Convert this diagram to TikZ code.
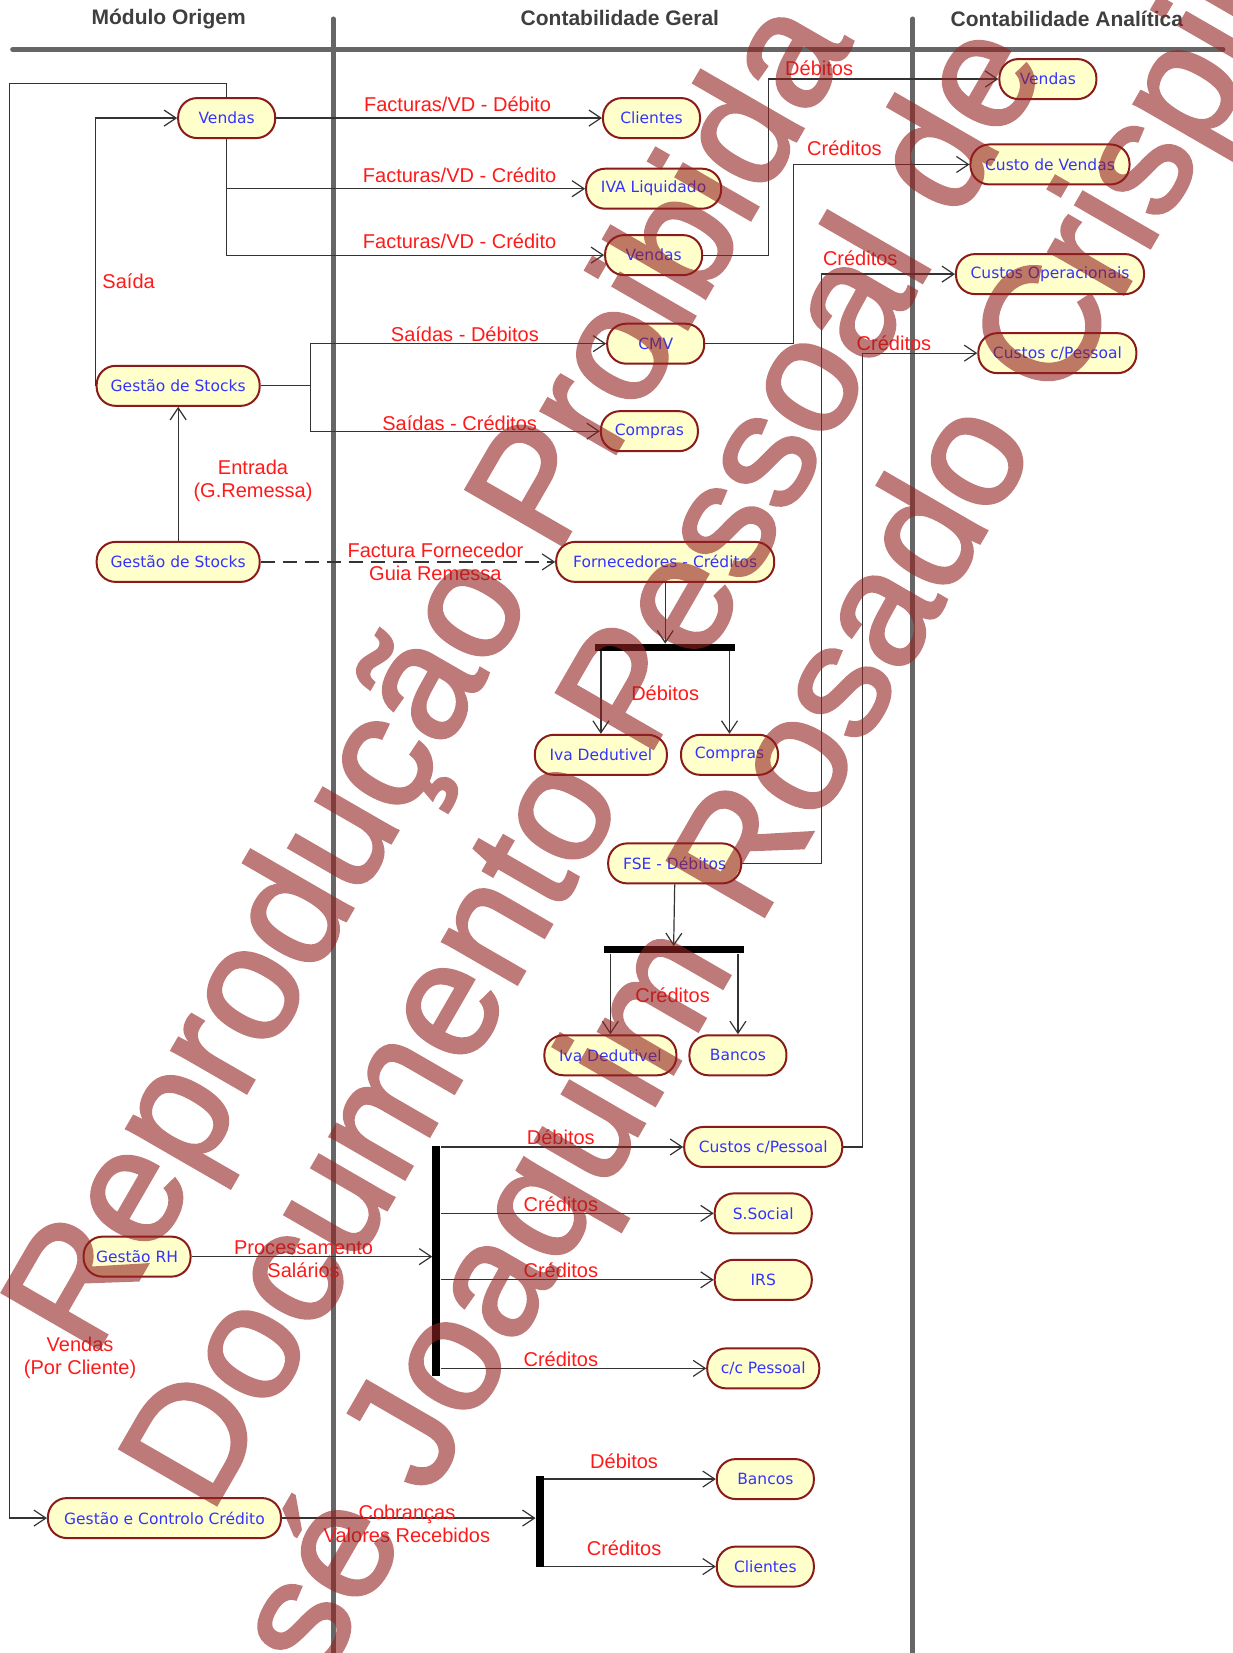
\documentclass[tikz,border=0pt]{standalone}
\usepackage{fontspec}
\setmainfont{Liberation Sans}
\newfontfamily\verd{DejaVu Sans}
\newfontfamily\wmfont[FakeBold=2]{Liberation Sans}
\usetikzlibrary{positioning, arrows.meta, calc}
\definecolor{accF}{HTML}{FFFFCC}
\definecolor{accB}{HTML}{8B1A1A}
\definecolor{accT}{HTML}{3333FF}
\definecolor{lblRed}{HTML}{FF1A1A}
\definecolor{laneG}{HTML}{666666}
\definecolor{hdrG}{HTML}{3F3F3F}
\definecolor{wire}{HTML}{333333}
\definecolor{wmark}{RGB}{148,33,33}

\begin{document}
\begin{tikzpicture}[x=1.054pt, y=-1.054pt,
acc/.style={draw=accB, fill=accF, line width=2pt, rounded corners=19pt, minimum height=40pt, inner sep=0pt, font=\verd\fontsize{15.5}{18}\selectfont, text=accT},
lbl/.style={font=\fontsize{20}{23}\selectfont, text=lblRed, align=center, inner sep=0pt},
hdr/.style={font=\bfseries\fontsize{21}{24}\selectfont, text=hdrG, inner sep=0pt},
hbar/.style={fill=black, inner sep=0pt, minimum height=7pt},
vbar/.style={fill=black, inner sep=0pt, minimum width=8pt},
con/.style={draw=wire, line width=1.2pt, -{Straight Barb[length=12pt, width=16pt]}},
lane/.style={draw=laneG, line width=5pt, line cap=round}]
\useasboundingbox[fill=white] (0,0) rectangle (1169,1568);
\node[hdr] (hOrig) at (160,18) {Módulo Origem};
\node[hdr] (hGeral) at (588,17) {Contabilidade Geral};
\node[hdr] (hAnal) at (1012,18) {Contabilidade Analítica};
\draw[lane] (12,47) -- (1160,47);
\draw[lane] (316,18) -- (316,1568);
\draw[lane] (866,18) -- (866,1568);
\node[acc, minimum width=97pt] (vendO) at (215,112) {Vendas};
\node[acc, minimum width=163pt] (stkA) at (169,366) {Gestão de Stocks};
\node[acc, minimum width=163pt] (stkB) at (169,533) {Gestão de Stocks};
\node[acc, minimum width=107pt] (rh) at (130,1192) {Gestão RH};
\node[acc, minimum width=233pt] (gcc) at (156,1440) {Gestão e Controlo Crédito};
\node[acc, minimum width=97pt] (cliA) at (618,112) {Clientes};
\node[acc, minimum width=135pt] (ivaL) at (620,179) {IVA Liquidado};
\node[acc, minimum width=97pt] (venG) at (620,242) {Vendas};
\node[acc, minimum width=97pt] (cmv) at (622,326) {CMV};
\node[acc, minimum width=97pt] (cmpA) at (616,409) {Compras};
\node[acc, minimum width=218pt] (forn) at (631,533) {Fornecedores - Créditos};
\node[hbar, minimum width=140pt] (bar1) at (631,614) {};
\node[acc, minimum width=132pt] (ivaA) at (570,716) {Iva Dedutivel};
\node[acc, minimum width=97pt] (cmpB) at (692,716) {Compras};
\node[acc, minimum width=133pt] (fse) at (640,819) {FSE - Débitos};
\node[hbar, minimum width=140pt] (bar2) at (639,901) {};
\node[acc, minimum width=132pt] (ivaB) at (579,1001) {Iva Dedutivel};
\node[acc, minimum width=97pt] (banA) at (700,1001) {Bancos};
\node[vbar, minimum height=230pt] (bar3) at (414,1196) {};
\node[acc, minimum width=158pt] (cpG) at (724,1088) {Custos c/Pessoal};
\node[acc, minimum width=97pt] (ssoc) at (724,1151) {S.Social};
\node[acc, minimum width=97pt] (irs) at (724,1214) {IRS};
\node[acc, minimum width=112pt] (ccp) at (724,1298) {c/c Pessoal};
\node[vbar, minimum height=91pt] (bar4) at (512,1443) {};
\node[acc, minimum width=97pt] (banB) at (726,1403) {Bancos};
\node[acc, minimum width=97pt] (cliB) at (726,1486) {Clientes};
\node[acc, minimum width=97pt] (venA) at (994,75) {Vendas};
\node[acc, minimum width=159pt] (cdv) at (996,156) {Custo de Vendas};
\node[acc, minimum width=188pt] (cop) at (996,260) {Custos Operacionais};
\node[acc, minimum width=158pt] (cpA) at (1003,335) {Custos c/Pessoal};
\draw[con] (vendO.north) |- (9,79) |- (gcc.west);
\draw[con] (stkA.west) |- (vendO.west);
\draw[con] (stkB.north) -- (stkA.south);
\draw[con] (vendO.east) -- (cliA.west);
\draw[con] (vendO.south) |- (ivaL.west);
\draw[con] (vendO.south) |- (venG.west);
\draw[con] (stkA.east) -- ++(47,0) |- (cmv.west);
\draw[con] (stkA.east) -- ++(47,0) |- (cmpA.west);
\draw[con] (venG.east) -- ++(62,0) |- (venA.west);
\draw[con] (cmv.east) -- ++(84,0) |- (cdv.west);
\draw[con] (fse.east) -- ++(75,0) |- (cop.west);
\draw[con] (cpG.east) -- ++(18,0) |- (cpA.west);
\draw[con, dash pattern=on 14pt off 8pt] (stkB.east) -- (forn.west);
\draw[con] (forn.south) -- (bar1.north);
\draw[con] (ivaA.north |- bar1.south) -- (ivaA.north);
\draw[con] (cmpB.north |- bar1.south) -- (cmpB.north);
\draw[con] (fse.south) -- (bar2.north);
\draw[con] (ivaB.north |- bar2.south) -- (ivaB.north);
\draw[con] (banA.north |- bar2.south) -- (banA.north);
\draw[con] (rh.east) -- (rh.east -| bar3.west);
\draw[con] (bar3.east |- cpG.west) -- (cpG.west);
\draw[con] (bar3.east |- ssoc.west) -- (ssoc.west);
\draw[con] (bar3.east |- irs.west) -- (irs.west);
\draw[con] (bar3.east |- ccp.west) -- (ccp.west);
\draw[con] (gcc.east) -- (gcc.east -| bar4.west);
\draw[con] (bar4.east |- banB.west) -- (banB.west);
\draw[con] (bar4.east |- cliB.west) -- (cliB.west);
\node[lbl] (lDebVen) at (777,65) {Débitos};
\node[lbl] (lFacDeb) at (434,99) {Facturas/VD - Débito};
\node[lbl] (lCreCdv) at (801,141) {Créditos};
\node[lbl] (lFacCreA) at (436,166) {Facturas/VD - Crédito};
\node[lbl] (lFacCreB) at (436,229) {Facturas/VD - Crédito};
\node[lbl] (lCreCop) at (816,245) {Créditos};
\node[lbl] (lSaida) at (122,267) {Saída};
\node[lbl] (lSaiDeb) at (441,317) {Saídas - Débitos};
\node[lbl] (lCreCp) at (848,326) {Créditos};
\node[lbl] (lSaiCre) at (436,401) {Saídas - Créditos};
\node[lbl] (lEntrada) at (240,456) {Entrada\\(G.Remessa)};
\node[lbl] (lFactForn) at (413,533) {Factura Fornecedor\\Guia Remessa};
\node[lbl] (lDebBar1) at (631,658) {Débitos};
\node[lbl] (lCreBar2) at (638,944) {Créditos};
\node[lbl] (lDebCp) at (532,1079) {Débitos};
\node[lbl] (lCreSs) at (532,1142) {Créditos};
\node[lbl] (lProc) at (288,1194) {Processamento\\Salários};
\node[lbl] (lCreIrs) at (532,1205) {Créditos};
\node[lbl] (lVendCli) at (76,1288) {Vendas\\(Por Cliente)};
\node[lbl] (lCreCcp) at (532,1289) {Créditos};
\node[lbl] (lDebBan) at (592,1386) {Débitos};
\node[lbl] (lCobr) at (386,1445) {Cobranças\\Valores Recebidos};
\node[lbl] (lCreCli) at (592,1469) {Créditos};
\begin{scope}[transparency group, opacity=0.6]
\node[rotate=60, font=\wmfont\fontsize{162}{180}\selectfont, text=wmark, align=center, inner sep=0pt] (wm) at (562,730) {Reprodução Proibida\\Documento Pessoal de\\José Joaquim Rosado Crispim};
\end{scope}
\end{tikzpicture}
\end{document}
